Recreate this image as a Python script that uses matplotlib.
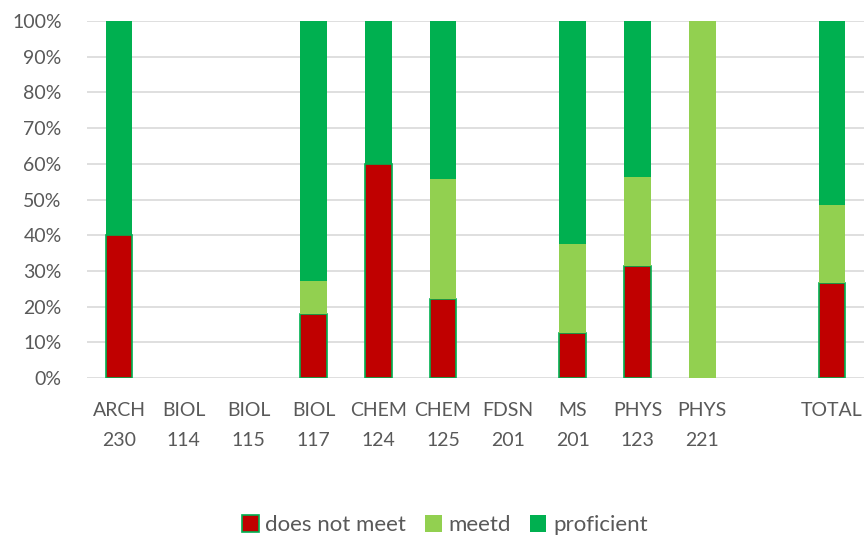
import numpy as np
import matplotlib.pyplot as plt
from matplotlib.ticker import PercentFormatter

plt.rcParams['font.family'] = ['Lato', 'DejaVu Sans']

courses = ["ARCH\n230", "BIOL\n114", "BIOL\n115", "BIOL\n117", "CHEM\n124", "CHEM\n125",
           "FDSN\n201", "MS\n201", "PHYS\n123", "PHYS\n221", "", "TOTAL"]
does_not_meet = [40, 0, 0, 18, 60, 22, 0, 12.5, 31.25, 0, 0, 26.5]
meetd = [0, 0, 0, 9.3, 0, 33.8, 0, 25, 25, 100, 0, 22]
proficient = [60, 0, 0, 72.7, 40, 44.2, 0, 62.5, 43.75, 0, 0, 51.5]

c_red = '#c00000'
c_light = '#92d050'
c_green = '#00b050'
txt = '#595959'

fig = plt.figure(figsize=(8.67, 5.35), dpi=100)
ax = fig.add_axes([0.0999, 0.2935, 0.897, 0.6672])

x = np.arange(len(courses))
w = 0.41
bottom2 = np.array(does_not_meet)
bottom3 = bottom2 + np.array(meetd)

# red segments carry a green outline; skip it on empty bars
edge_w = [1.2 if v > 0 else 0 for v in does_not_meet]
ax.bar(x, does_not_meet, w, color=c_red, edgecolor=c_green, linewidth=edge_w,
       label='does not meet', zorder=3)
ax.bar(x, meetd, w, bottom=bottom2, color=c_light, linewidth=0, label='meetd', zorder=3)
ax.bar(x, proficient, w, bottom=bottom3, color=c_green, linewidth=0, label='proficient', zorder=3)

ax.set_xlim(-0.5, len(courses) - 0.5)
ax.set_ylim(0, 100)
ax.set_yticks(np.arange(0, 101, 10))
ax.yaxis.set_major_formatter(PercentFormatter(decimals=0))
ax.set_xticks(x)
ax.set_xticklabels(courses, linespacing=1.95)
ax.tick_params(axis='both', length=0, labelsize=14, colors=txt)
ax.tick_params(axis='x', pad=17)
ax.tick_params(axis='y', pad=18)
ax.grid(axis='y', color='#d9d9d9', linewidth=1.2, zorder=0)
for s in ax.spines.values():
    s.set_visible(False)

leg = fig.legend(loc='lower center', ncol=3, frameon=False, fontsize=16,
                 bbox_to_anchor=(0.513, -0.038), handlelength=0.75, handleheight=0.75,
                 handletextpad=0.3, columnspacing=0.85)
leg.legend_handles[0].set_linewidth(1.2)
for t in leg.get_texts():
    t.set_color(txt)

fig.savefig('out.png', dpi=100)
